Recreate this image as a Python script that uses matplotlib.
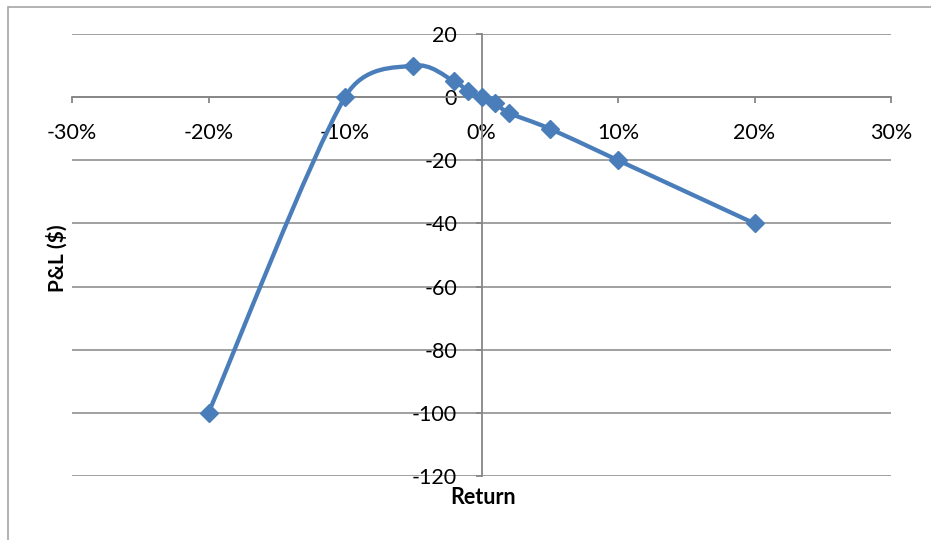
import matplotlib
matplotlib.use("Agg")
import matplotlib.pyplot as plt
import numpy as np
from matplotlib.path import Path
from matplotlib.patches import PathPatch, Rectangle
from matplotlib.ticker import FuncFormatter

plt.rcParams['font.family'] = ['Lato', 'DejaVu Sans']
plt.rcParams['axes.unicode_minus'] = False

returns = [-0.20, -0.10, -0.05, -0.02, -0.01, 0.0, 0.01, 0.02, 0.05, 0.10, 0.20]
pnl = [-100, 0, 10, 5, 2, 0, -2, -5, -10, -20, -40]
xticks = [-0.3, -0.2, -0.1, 0.0, 0.1, 0.2, 0.3]
yticks = [20, 0, -20, -40, -60, -80, -100, -120]

blue = '#4a7ebb'
gray = '#868686'

fig = plt.figure(figsize=(9.31, 5.4), dpi=100)
W, H = 931, 540
ax = fig.add_axes([72 / W, 1 - 476 / H, (891 - 72) / W, (476 - 34) / H])
ax.set_xlim(-0.3, 0.3)
ax.set_ylim(-120, 20)

# chart frame
fig.patches.append(Rectangle((7.5 / W, -0.1), 1.2, 1.1 - 6.5 / H, transform=fig.transFigure,
                             fill=False, edgecolor='#a6a6a6', linewidth=1.2))

for s in ['top', 'right']:
    ax.spines[s].set_visible(False)
ax.spines['left'].set_position(('data', 0))
ax.spines['bottom'].set_position(('data', 0))
for s in ['left', 'bottom']:
    ax.spines[s].set_color(gray)
    ax.spines[s].set_linewidth(1.3)
    ax.spines[s].set_zorder(1)

ax.set_xticks(xticks)
ax.set_yticks(yticks)
ax.xaxis.set_major_formatter(FuncFormatter(lambda v, p: '%d%%' % round(v * 100)))
ax.tick_params(axis='x', direction='out', length=4.5, width=1.3, color=gray, pad=14, labelsize=15.5)
ax.tick_params(axis='y', direction='out', length=4.5, width=1.3, color=gray, pad=13, labelsize=15.5)
ax.grid(axis='y', color=gray, linewidth=1.1, zorder=0)
ax.set_axisbelow(True)

# Excel-style smoothed line (bezier, computed in pixel space)
pts = ax.transData.transform(np.column_stack([returns, pnl]))
n = len(pts)
verts = [pts[0]]
codes = [Path.MOVETO]
for i in range(n - 1):
    p0 = pts[max(i - 1, 0)]
    p1 = pts[i]
    p2 = pts[i + 1]
    p3 = pts[min(i + 2, n - 1)]
    seg = np.hypot(*(p2 - p1))
    a1 = (p2 - p0) / 6
    a2 = (p3 - p1) / 6
    if np.hypot(*a1) > seg / 2:
        a1 = a1 / np.hypot(*a1) * seg / 2
    if np.hypot(*a2) > seg / 2:
        a2 = a2 / np.hypot(*a2) * seg / 2
    verts += [p1 + a1, p2 - a2, p2]
    codes += [Path.CURVE4] * 3
verts = ax.transData.inverted().transform(np.array(verts))
ax.add_patch(PathPatch(Path(verts, codes), fill=False, edgecolor=blue, linewidth=3.1,
                       capstyle='round', zorder=3))
ax.plot(returns, pnl, linestyle='none', marker='D', markersize=9, color=blue, zorder=4)

fig.text(483 / W, 1 - 498 / H, 'Return', ha='center', va='center', fontsize=15.5, fontweight='bold')
fig.text(57 / W, 1 - 258 / H, 'P&L ($)', ha='center', va='center', rotation=90,
         fontsize=15, fontweight='bold')

fig.savefig('out.png', dpi=100)
